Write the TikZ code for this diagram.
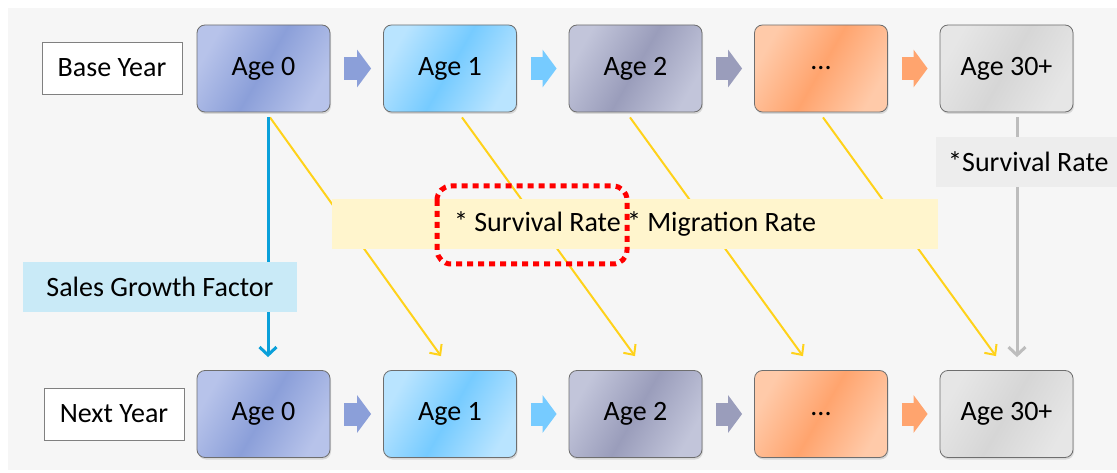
\documentclass[tikz,border=0pt]{standalone}
\usepackage{fontspec}
\setmainfont{Carlito}
\usetikzlibrary{calc, arrows.meta, shadows}
\newcommand{\diagfont}{\fontsize{28}{34}\selectfont}
\definecolor{bgGray}{HTML}{F6F6F6}
\definecolor{boxEdge}{HTML}{6E6E6E}
\definecolor{ageA}{HTML}{8B9FD9}\definecolor{ageAl}{HTML}{B7C3EA}
\definecolor{ageB}{HTML}{76CBFF}\definecolor{ageBl}{HTML}{B9E4FF}
\definecolor{ageC}{HTML}{9A9DBB}\definecolor{ageCl}{HTML}{C2C5DA}
\definecolor{ageD}{HTML}{FFA46E}\definecolor{ageDl}{HTML}{FFCAA9}
\definecolor{ageE}{HTML}{D6D6D6}\definecolor{ageEl}{HTML}{E6E6E6}
\definecolor{rateYellow}{HTML}{FFD21A}
\definecolor{growthBlue}{HTML}{0AA0DA}
\definecolor{survGray}{HTML}{BDBDBD}
\tikzset{
    agebox/.style 2 args={draw=boxEdge, line width=0.8pt, rounded corners=8pt,
        minimum width=133pt, minimum height=87pt, font=\diagfont,
        left color=#2, right color=#2, middle color=#1, shading angle=60,
        drop shadow={opacity=0.25, shadow xshift=1pt, shadow yshift=-2pt}},
    yearbox/.style={draw=gray, fill=white, line width=0.8pt,
        minimum width=140pt, minimum height=52pt, font=\diagfont},
    blockarr/.style={line width=23pt, -{Triangle[length=14pt 0 0, width=37pt 0 0]},
        shorten <=14pt, shorten >=12pt},
    ratearr/.style={rateYellow, line width=2pt, -{Straight Barb[length=8pt, width=15pt]}},
    growtharr/.style={growthBlue, line width=3pt, -{Straight Barb[length=8pt, width=17pt]}},
    survarr/.style={survGray, line width=3pt, -{Straight Barb[length=8pt, width=17pt]}},
    labelband/.style={minimum height=50pt, inner xsep=12pt, font=\diagfont}
}

\begin{document}
\begin{tikzpicture}[x=1pt, y=-1pt]
    \useasboundingbox (0,0) rectangle (1117,473);
    \fill[white] (0,0) rectangle (1117,473);
    \fill[bgGray] (8,8) rectangle (1117,470);
    % year labels
    \node[yearbox] (base) at (112,68) {Base Year};
    \node[yearbox] (next) at (114,414) {Next Year};
    % base year ages
    \node[agebox={ageA}{ageAl}] (t0) at (263.5,68.5) {Age 0};
    \node[agebox={ageB}{ageBl}] (t1) at (450,68.5) {Age 1};
    \node[agebox={ageC}{ageCl}] (t2) at (635.5,68.5) {Age 2};
    \node[agebox={ageD}{ageDl}] (t3) at (821,68.5) {...};
    \node[agebox={ageE}{ageEl}] (t4) at (1006.5,68.5) {Age 30+};
    % next year ages
    \node[agebox={ageA}{ageAl}] (b0) at (263.5,414) {Age 0};
    \node[agebox={ageB}{ageBl}] (b1) at (450,414) {Age 1};
    \node[agebox={ageC}{ageCl}] (b2) at (635.5,414) {Age 2};
    \node[agebox={ageD}{ageDl}] (b3) at (821,414) {...};
    \node[agebox={ageE}{ageEl}] (b4) at (1006.5,414) {Age 30+};
    % block arrows along each row
    \draw[blockarr, ageA] (t0.east) -- (t1.west);
    \draw[blockarr, ageB] (t1.east) -- (t2.west);
    \draw[blockarr, ageC] (t2.east) -- (t3.west);
    \draw[blockarr, ageD] (t3.east) -- (t4.west);
    \draw[blockarr, ageA] (b0.east) -- (b1.west);
    \draw[blockarr, ageB] (b1.east) -- (b2.west);
    \draw[blockarr, ageC] (b2.east) -- (b3.west);
    \draw[blockarr, ageD] (b3.east) -- (b4.west);
    % ageing from one year to the next
    \draw[ratearr] ($(t0.south)+(6.5,5)$) -- ($(b1.north)+(-9,-14)$);
    \draw[ratearr] ($(t1.south)+(12,5)$) -- ($(b2.north)+(-0.5,-14)$);
    \draw[ratearr] ($(t2.south)+(-5.5,5)$) -- ($(b3.north)+(-18,-14)$);
    \draw[ratearr] ($(t3.south)+(2,5)$) -- ($(b4.north)+(-10.5,-14)$);
    \draw[growtharr] ($(t0.south)+(4.5,5)$) -- ($(b0.north)+(4.5,-13)$);
    \draw[survarr] ($(t4.south)+(10.5,5)$) -- ($(b4.north)+(10.5,-13)$);
    % labels on the arrows
    \node[labelband, fill=rateYellow!22, minimum width=606pt] (rates) at (635,224) {* Survival Rate * Migration Rate};
    \node[labelband, fill=growthBlue!22, minimum width=274pt] (growth) at (160,287) {Sales Growth Factor};
    \node[labelband, fill=black!7, anchor=west] (surv) at (936,162) {*Survival Rate};
    \draw[red, line width=5pt, dash pattern=on 6pt off 5pt, rounded corners=14pt] (437,186) rectangle (627,264);
\end{tikzpicture}
\end{document}
